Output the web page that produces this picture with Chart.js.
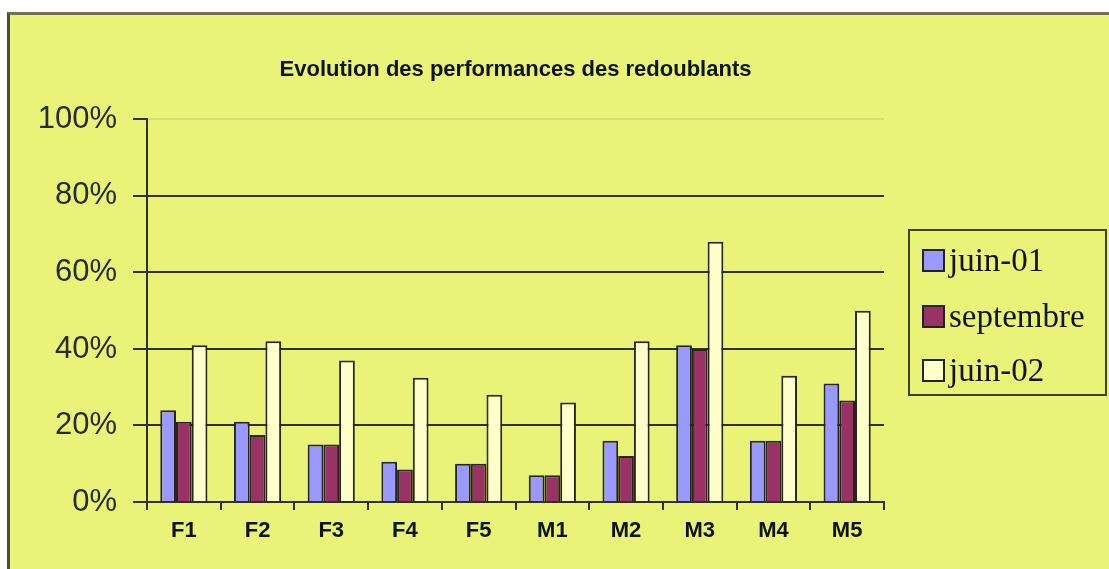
<!DOCTYPE html>
<html>
<head>
<meta charset="utf-8">
<script src="https://cdn.jsdelivr.net/npm/chart.js@4"></script>
<style>
  body { margin:0; background:#fff; width:1109px; height:569px; overflow:hidden; position:relative; }
  #frame { position:absolute; left:7px; top:12px; width:1120px; height:580px;
           background:#E8F378; border-left:3px solid #4b4e2c; border-top:3px solid #6f7152; }
  #chart { position:absolute; left:0; top:0; }
  #legend { position:absolute; left:908px; top:229px; width:195px; height:163px;
            border:2px solid #3e402a; font-family:"Liberation Serif", serif; font-size:33px; color:#111; }
  .item { position:absolute; left:12px; height:34px; line-height:34px; white-space:nowrap; }
  .swatch { display:inline-block; width:19px; height:19px; border:2px solid #222; vertical-align:middle; margin-right:4px; position:relative; top:-3px; }
</style>
</head>
<body>
<div id="frame"></div>
<canvas id="chart" width="1109" height="569"></canvas>
<div id="legend"></div>
<script>
const categories = ["F1","F2","F3","F4","F5","M1","M2","M3","M4","M5"];
const seriesNames = ["juin-01","septembre","juin-02"];
const juin01    = [24, 21, 15, 10.5, 10, 7, 16, 41, 16, 31];
const septembre = [21, 17.5, 15, 8.5, 10, 7, 12, 40, 16, 26.5];
const juin02    = [41, 42, 37, 32.5, 28, 26, 42, 68, 33, 50];
const yTicks = [0, 20, 40, 60, 80, 100];

const colors = ["#9999FF", "#993366", "#FFFFCC"];
const dark = "#2f3020";
const faint = "#d4de74";

const datasets = [juin01, septembre, juin02].map((d, i) => ({
  label: seriesNames[i],
  data: d,
  backgroundColor: colors[i],
  borderColor: "#262618",
  borderWidth: 2,
  borderSkipped: "start",
  categoryPercentage: 0.64,
  barPercentage: 1
}));

const ctx = document.getElementById("chart").getContext("2d");
const chart = new Chart(ctx, {
  type: "bar",
  data: { labels: categories, datasets },
  options: {
    responsive: false,
    animation: false,
    layout: { padding: { left: 20, right: 225, top: 0, bottom: 0 } },
    plugins: {
      legend: { display: false },
      tooltip: { enabled: false },
      title: {
        display: true,
        fullSize: false,
        text: "Evolution des performances des redoublants",
        color: "#111",
        font: { family: "Liberation Sans", size: 22, weight: "bold" },
        padding: { top: 57, bottom: 36 }
      }
    },
    scales: {
      x: {
        grid: {
          offset: true,
          drawOnChartArea: true,
          color: c => c.index === categories.length ? faint : "rgba(0,0,0,0)",
          tickColor: dark,
          tickLength: 8,
          lineWidth: 2
        },
        border: { color: dark, width: 2 },
        ticks: { color: "#111", padding: 8, font: { family: "Liberation Sans", size: 22, weight: "bold" } },
        afterFit: s => { s.height = 67; }
      },
      y: {
        min: 0, max: 100,
        afterBuildTicks: s => { s.ticks = yTicks.map(v => ({ value: v })); },
        grid: {
          color: c => c.tick && c.tick.value === 100 ? faint : dark,
          tickColor: dark,
          tickLength: 14,
          lineWidth: 2
        },
        border: { color: dark, width: 2 },
        ticks: {
          color: "#2a2a2a",
          padding: 16,
          font: { family: "Liberation Sans", size: 31 },
          callback: v => v + "%"
        },
        afterFit: s => { s.width = 127; }
      }
    }
  }
});

// Legend
const legend = document.getElementById("legend");
const rowTops = [12, 68, 122];
seriesNames.forEach((name, i) => {
  const item = document.createElement("div");
  item.className = "item";
  item.style.top = rowTops[i] + "px";
  item.innerHTML = `<span class="swatch" style="background:${colors[i]}"></span>${name}`;
  legend.appendChild(item);
});
</script>
</body>
</html>
